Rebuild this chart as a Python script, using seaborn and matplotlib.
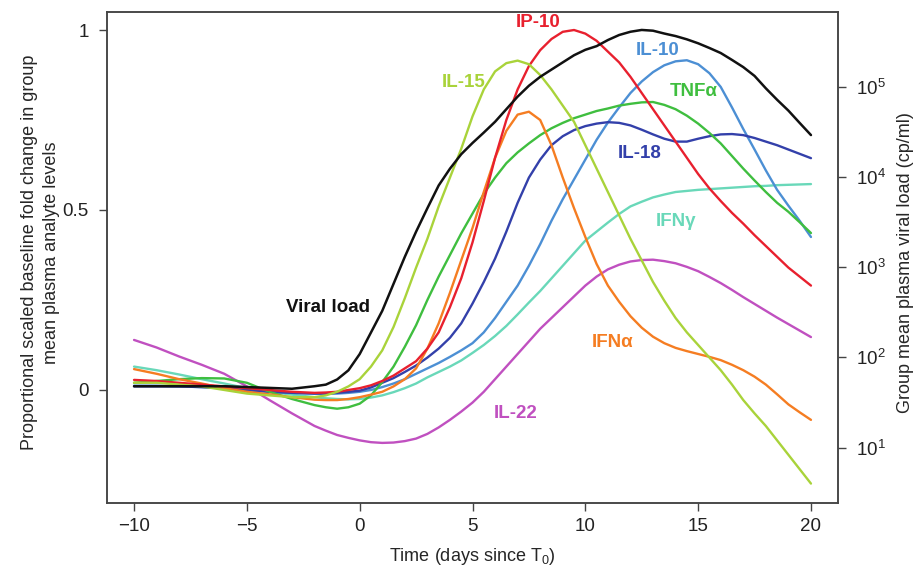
import matplotlib
matplotlib.use("Agg")
import matplotlib.pyplot as plt
from matplotlib.ticker import FixedLocator, NullLocator
import pandas as pd
import seaborn as sns

# time since T0 (days)
days = [-10, -9, -8, -7, -6, -5, -4, -3, -2,
        -1.5, -1, -0.5, 0, 0.5, 1, 1.5, 2, 2.5, 3, 3.5, 4, 4.5, 5, 5.5, 6, 6.5,
        7, 7.5, 8, 8.5, 9, 9.5, 10, 10.5, 11,
        11.5, 12, 12.5, 13, 13.5, 14, 14.5, 15, 15.5, 16, 16.5, 17, 17.5, 18, 18.5, 19, 19.5, 20]

# group mean plasma viral load (cp/ml), right axis
viral_load = [48, 48, 48, 48, 48, 47, 46, 45, 48,
              50, 57, 72, 109, 189, 328, 653, 1300, 2470, 4490, 8020, 12300, 17800, 23700, 30900,
              40700, 56100, 77300, 102000, 128000, 154000, 185000, 222000, 255000, 280000, 327000,
              372000, 404000, 423000, 415000, 386000, 362000, 333000, 301000, 267000, 235000,
              197000, 164000, 131000, 95500, 71300, 54100, 39500, 29000]

# proportional scaled baseline fold change, left axis
il15 = [.02, .02, .015, .01, .0, -.01, -.015, -.02, -.02,
        -.015, -.005, .01, .03, .065, .11, .175, .255, .34, .42, .51, .59, .67, .76, .835, .885, .908,
        .915, .905, .875, .835, .79, .745, .68, .615, .55,
        .485, .42, .36, .30, .248, .20, .16, .125, .09, .055, .015, -.028, -.065, -.10, -.14, -.18, -.22, -.26]
ip10 = [.028, .025, .02, .015, .01, .005, .0, -.005, -.008,
        -.007, -.005, .0, .005, .013, .025, .04, .06, .08, .115, .16, .23, .31, .41, .525, .645, .75,
        .835, .9, .944, .975, .995, 1.0, .99, .97, .94,
        .91, .87, .825, .78, .735, .69, .645, .60, .56, .525, .492, .462, .43, .40, .37, .34, .315, .29]
ifna = [.058, .045, .03, .018, .005, -.005, -.012, -.02, -.027,
        -.028, -.028, -.025, -.02, -.013, -.005, .01, .03, .06, .115, .185, .27, .36, .45, .55, .645, .72,
        .765, .773, .75, .68, .59, .505, .425, .35, .29,
        .245, .205, .173, .148, .13, .117, .108, .10, .092, .083, .07, .055, .037, .015, -.012, -.04, -.062, -.083]
tnfa = [.02, .025, .03, .033, .032, .02, -.005, -.025, -.042,
        -.048, -.052, -.048, -.038, -.015, .022, .065, .12, .18, .25, .315, .375, .435, .49, .545, .59, .63,
        .66, .685, .708, .727, .742, .755, .765, .775, .782,
        .79, .795, .799, .80, .792, .78, .762, .74, .714, .685, .65, .615, .582, .55, .52, .495, .466, .436]
il18 = [.01, .01, .01, .008, .005, .0, -.005, -.008, -.01,
        -.01, -.008, -.005, -.002, .007, .02, .033, .05, .068, .09, .115, .145, .185, .24, .30, .365, .44,
        .52, .59, .64, .68, .705, .722, .733, .74, .744,
        .742, .735, .723, .71, .698, .69, .69, .698, .705, .71, .711, .708, .70, .69, .68, .668, .656, .644]
il10 = [.012, .012, .01, .008, .005, .0, -.005, -.008, -.01,
        -.01, -.01, -.008, -.005, .0, .008, .018, .03, .045, .06, .075, .092, .11, .13, .16, .20, .245,
        .29, .345, .405, .47, .53, .585, .64, .695, .743,
        .785, .825, .857, .883, .902, .913, .916, .905, .88, .842, .785, .725, .668, .61, .556, .512, .47, .425]
ifng = [.065, .055, .043, .03, .018, .005, -.005, -.013, -.02,
        -.023, -.025, -.026, -.025, -.021, -.015, -.006, .005, .018, .035, .05, .065, .082, .103, .125, .15, .178,
        .21, .243, .275, .31, .345, .38, .415, .44, .465,
        .489, .51, .523, .535, .543, .55, .553, .556, .558, .56, .562, .564, .566, .567, .569, .57, .571, .572]
il22 = [.139, .118, .093, .07, .045, .01, -.028, -.065, -.10,
        -.113, -.125, -.133, -.14, -.145, -.147, -.146, -.142, -.135, -.122, -.104, -.083, -.06, -.035, -.005, .03, .065,
        .10, .135, .17, .20, .23, .26, .29, .315, .335,
        .348, .357, .361, .362, .358, .352, .342, .33, .314, .297, .278, .258, .239, .22, .201, .183, .165, .147]

analytes = {'IL-22': il22, 'IFNγ': ifng, 'IL-10': il10, 'IL-18': il18,
            'TNFα': tnfa, 'IFNα': ifna, 'IP-10': ip10, 'IL-15': il15}

colors = {'IL-15': '#a9d33a', 'IP-10': '#e8202e', 'IFNα': '#f57d22', 'TNFα': '#3fbe3f',
          'IL-18': '#3340aa', 'IL-10': '#4c8fd4', 'IFNγ': '#69d8b9', 'IL-22': '#c050c0',
          'Viral load': '#111111'}

# label anchor points (days, scaled value)
label_pos = {'IP-10': (7.9, 1.02), 'IL-10': (13.2, 0.944), 'IL-15': (4.6, 0.853),
             'TNFα': (14.8, 0.83), 'IL-18': (12.4, 0.658), 'IFNγ': (14.0, 0.467),
             'Viral load': (-1.4, 0.228), 'IFNα': (11.2, 0.133), 'IL-22': (6.9, -0.064)}

rows = []
for name, vals in analytes.items():
    for d, v in zip(days, vals):
        rows.append({'day': d, 'value': v, 'analyte': name})
df = pd.DataFrame(rows)
vl = pd.DataFrame({'day': days, 'viral_load': viral_load})

sns.set_style("ticks")
plt.rcParams['font.family'] = ['Liberation Sans', 'DejaVu Sans']
plt.rcParams['mathtext.default'] = 'regular'
plt.rcParams['axes.edgecolor'] = '#444444'
plt.rcParams['xtick.color'] = '#444444'
plt.rcParams['ytick.color'] = '#444444'
plt.rcParams['xtick.labelcolor'] = '#222222'
plt.rcParams['ytick.labelcolor'] = '#222222'
plt.rcParams['lines.solid_joinstyle'] = 'round'

fig = plt.figure(figsize=(9.19, 5.72), dpi=100)
ax = fig.add_axes([0.1164, 0.1206, 0.7955, 0.8584])

sns.lineplot(data=df, x='day', y='value', hue='analyte', palette=colors,
             linewidth=1.7, legend=False, ax=ax)

ax2 = ax.twinx()
sns.lineplot(data=vl, x='day', y='viral_load', color=colors['Viral load'],
             linewidth=1.8, ax=ax2)
ax2.set_yscale('log')
ax2.set_ylim(10 ** 0.388, 10 ** 5.825)
ax2.yaxis.set_major_locator(FixedLocator([10, 100, 1000, 10000, 100000]))
ax2.yaxis.set_minor_locator(NullLocator())
ax2.set_ylabel('Group mean plasma viral load (cp/ml)', fontsize=13)
ax2.yaxis.set_label_coords(1.081, 0.49)

ax.set_xlim(-11.2, 21.2)
ax.set_ylim(-0.314, 1.05)
ax.set_xticks([-10, -5, 0, 5, 10, 15, 20])
ax.set_yticks([0, 0.5, 1])
ax.set_yticklabels(['0', '0.5', '1'])
ax.set_xlabel('Time (days since T$_0$)', fontsize=13)
ax.set_ylabel('Proportional scaled baseline fold change in group\nmean plasma analyte levels',
              fontsize=13, linespacing=1.4)
ax.yaxis.set_label_coords(-0.064, 0.51)
ax.xaxis.set_label_coords(0.5, -0.088)

for a in (ax, ax2):
    a.tick_params(labelsize=13.5, length=6, width=1, pad=5)
    a.tick_params(axis='y', pad=7)
    for s in a.spines.values():
        s.set_visible(True)
        s.set_linewidth(1.1)

for name, (x, y) in label_pos.items():
    ax.text(x, y, name, color=colors[name], fontsize=13.5, fontweight='bold',
            ha='center', va='center')

fig.savefig('out.png', dpi=100)
